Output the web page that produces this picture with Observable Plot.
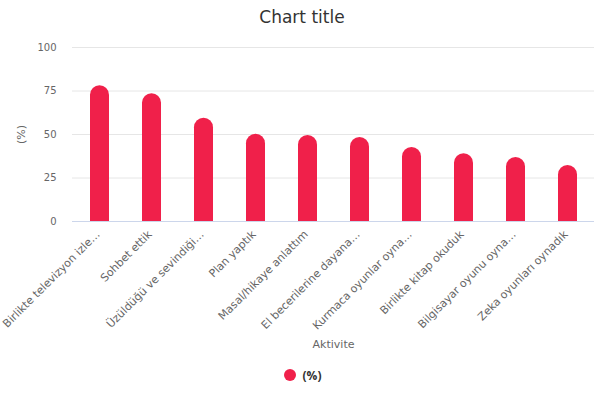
<!DOCTYPE html>
<html>
<head>
<meta charset="utf-8">
<script src="https://cdn.jsdelivr.net/npm/d3@7"></script>
<script src="https://cdn.jsdelivr.net/npm/@observablehq/plot@0.6"></script>
<style>
  body { margin: 0; background: #fff; font-family: "DejaVu Sans", sans-serif; }
  #title { height: 36px; text-align: center; font-size: 17px; color: #333; line-height: 34px; }
  #legend { height: 30px; margin-top: 3px; display: flex; justify-content: center; align-items: center; gap: 6px; font-family: "Open Sans", sans-serif; font-size: 12px; font-weight: bold; color: #333; }
</style>
</head>
<body>
<div id="title">Chart title</div>
<div id="chart"></div>
<div id="legend"></div>
<script>
const categories = [
  "Birlikte televizyon izle…",
  "Sohbet ettik",
  "Üzüldüğü ve sevindiği…",
  "Plan yaptık",
  "Masal/hikaye anlattım",
  "El becerilerine dayana…",
  "Kurmaca oyunlar oyna…",
  "Birlikte kitap okuduk",
  "Bilgisayar oyunu oyna…",
  "Zeka oyunları oynadık"
];
const values = [78, 73.4, 59.4, 50.2, 49.4, 48.3, 42.5, 39, 36.8, 32.2];
const yTicks = [0, 25, 50, 75, 100];
const seriesName = "(%)";
const xTitle = "Aktivite";
const color = "#f0204a";

const data = categories.map((c, i) => ({category: c, value: values[i]}));

const chart = Plot.plot({
  width: 604,
  height: 321,
  marginTop: 11,
  marginBottom: 136,
  marginLeft: 72,
  marginRight: 10,
  style: {fontFamily: '"DejaVu Sans", sans-serif', fontSize: "11px", color: "#666"},
  x: {domain: categories, paddingInner: 0.64, paddingOuter: 0.32},
  y: {domain: [0, 100]},
  marks: [
    Plot.gridY(yTicks, {stroke: "#e6e6e6", strokeOpacity: 1}),
    Plot.ruleY([0], {stroke: "#ccd6eb"}),
    Plot.barY(data, {x: "category", y: "value", fill: color, ry1: 9.5}),
    Plot.axisY(yTicks, {tickSize: 0, tickPadding: 16, fontSize: 10, label: null}),
    Plot.axisY({tickSize: 0, ticks: [], label: "(%)", labelAnchor: "center", labelOffset: 55, labelArrow: "none", fontSize: 11}),
    Plot.axisX({tickSize: 0, tickPadding: 11, dx: -2, tickRotate: -45, fontSize: 11, label: null}),
    Plot.axisX({tickSize: 0, ticks: [], label: xTitle, labelAnchor: "center", labelOffset: 126, labelArrow: "none", fontSize: 11})
  ]
});
document.getElementById("chart").appendChild(chart);

document.getElementById("legend").innerHTML =
  `<svg width="14" height="14"><circle cx="7" cy="7" r="6" fill="${color}"></circle></svg><span>${seriesName}</span>`;
</script>
</body>
</html>
